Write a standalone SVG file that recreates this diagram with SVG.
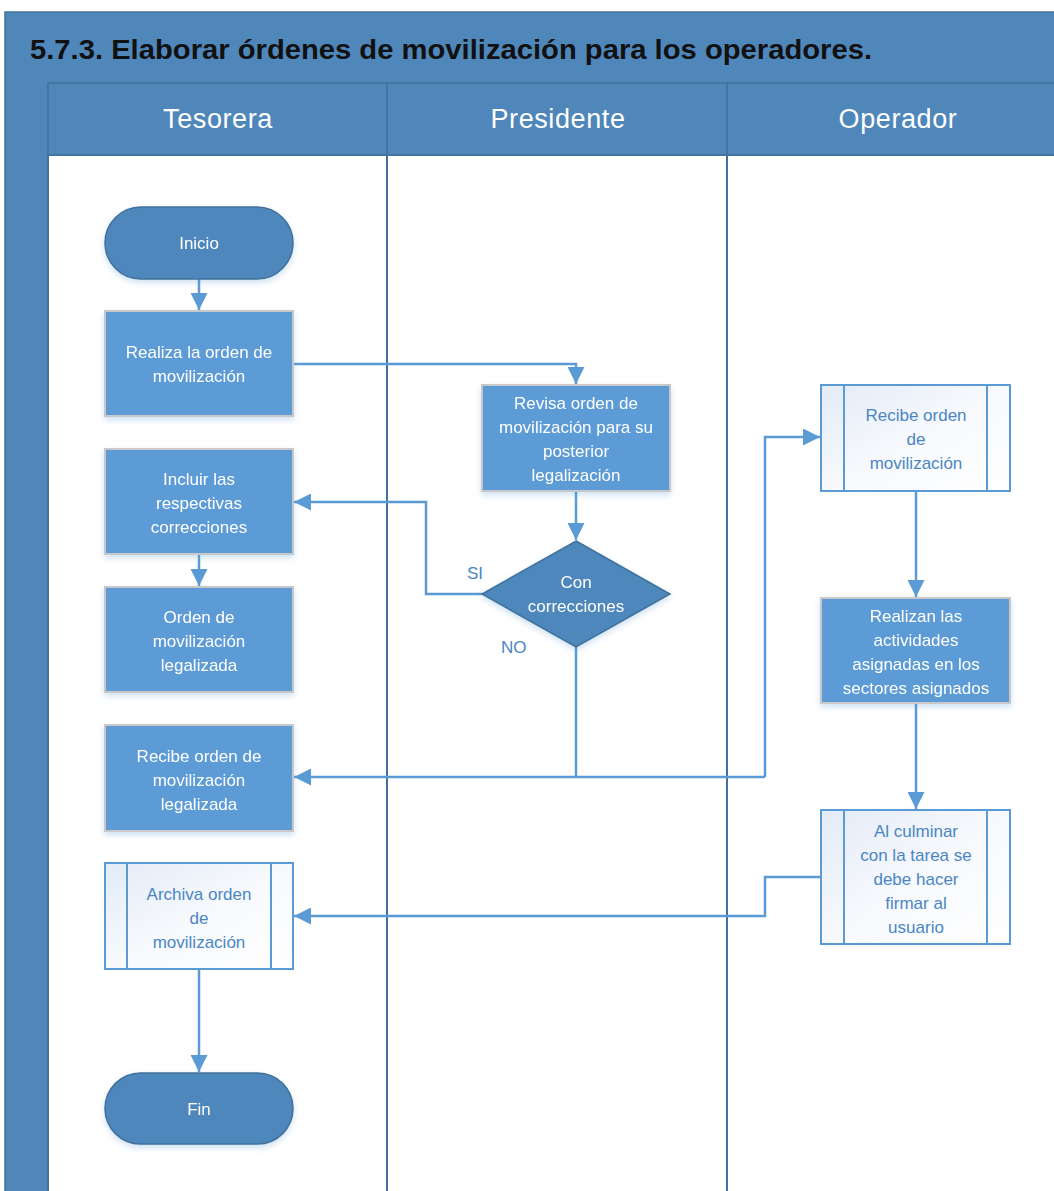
<svg xmlns="http://www.w3.org/2000/svg" width="1054" height="1191" viewBox="0 0 1054 1191">
  <defs>
    <style>
      .band { fill: #4f87bb; stroke: #41719c; stroke-width: 1.5; }
      .lane { fill: #ffffff; stroke: #41719c; stroke-width: 2; }
      .term { fill: #4e87bb; stroke: #41719c; stroke-width: 1.5; }
      .proc { fill: #5b9bd5; stroke: #c8c8c8; stroke-width: 2; }
      .sub { fill: url(#subFill); stroke: #5b9bd5; stroke-width: 2; }
      .dec { fill: #4e87bb; stroke: #41719c; stroke-width: 1.5; }
      .wt { font-family: "Liberation Sans", Arial, sans-serif; font-size: 17px; fill: #ffffff; text-anchor: middle; }
      .bt { font-family: "Liberation Sans", Arial, sans-serif; font-size: 17px; fill: #4a86c5; text-anchor: middle; }
      .hd { font-family: "Liberation Sans", Arial, sans-serif; font-size: 27px; fill: #ffffff; text-anchor: middle; letter-spacing: 0.6px; }
      .lbl { font-family: "Liberation Sans", Arial, sans-serif; font-size: 17px; fill: #4a86c5; }
      .conn { fill: none; stroke: #5b9bd5; stroke-width: 2.5; }
    </style>
    <linearGradient id="subFill" x1="0" y1="0" x2="1" y2="1">
      <stop offset="0" stop-color="#e3ebf7"/>
      <stop offset="0.5" stop-color="#f7f9fd"/>
      <stop offset="1" stop-color="#ffffff"/>
    </linearGradient>
    <filter id="shadow" x="-10%" y="-10%" width="125%" height="130%">
      <feDropShadow dx="0" dy="3" stdDeviation="3" flood-color="#5b9bd5" flood-opacity="0.3"/>
    </filter>
    <marker id="arrow" viewBox="0 0 10 10" refX="10" refY="5" markerWidth="6.8" markerHeight="6.8" markerUnits="strokeWidth" orient="auto">
      <path d="M0,0 L10,5 L0,10 Z" fill="#5b9bd5"/>
    </marker>
  </defs>

  <rect width="1054" height="1191" fill="#ffffff"/>

  <!-- pool frame, title band and left strip -->
  <g id="pool">
    <rect class="band" x="5" y="12" width="1060" height="1190"/>
    <text x="30" y="59" font-family="Liberation Sans, Arial, sans-serif" font-size="27" font-weight="bold" fill="#111111" textLength="842" lengthAdjust="spacingAndGlyphs">5.7.3. Elaborar órdenes de movilización para los operadores.</text>
  </g>

  <!-- swimlanes -->
  <g id="lanes">
    <rect class="lane" x="48" y="155" width="339" height="1050"/>
    <rect class="lane" x="387" y="155" width="340" height="1050"/>
    <rect class="lane" x="727" y="155" width="340" height="1050"/>
    <rect class="band" x="48" y="83" width="339" height="72"/>
    <rect class="band" x="387" y="83" width="340" height="72"/>
    <rect class="band" x="727" y="83" width="340" height="72"/>
    <text class="hd" x="218" y="128">Tesorera</text>
    <text class="hd" x="558" y="128">Presidente</text>
    <text class="hd" x="898" y="128">Operador</text>
  </g>

  <!-- connectors -->
  <g id="connectors">
    <path class="conn" d="M199,279 V310" marker-end="url(#arrow)"/>
    <path class="conn" d="M293,364 H576 V384" marker-end="url(#arrow)"/>
    <path class="conn" d="M576,491 V540" marker-end="url(#arrow)"/>
    <path class="conn" d="M482,594 H426 V502 H294" marker-end="url(#arrow)"/>
    <path class="conn" d="M199,554 V586" marker-end="url(#arrow)"/>
    <path class="conn" d="M576,647 V777"/>
    <path class="conn" d="M765,777 H294" marker-end="url(#arrow)"/>
    <path class="conn" d="M765,777 V437 H820" marker-end="url(#arrow)"/>
    <path class="conn" d="M916,491 V597" marker-end="url(#arrow)"/>
    <path class="conn" d="M916,703 V809" marker-end="url(#arrow)"/>
    <path class="conn" d="M821,877 H765 V916 H294" marker-end="url(#arrow)"/>
    <path class="conn" d="M199,969 V1072" marker-end="url(#arrow)"/>
    <text class="lbl" x="467" y="579">SI</text>
    <text class="lbl" x="501" y="653">NO</text>
  </g>

  <!-- Tesorera lane -->
  <g id="inicio" filter="url(#shadow)">
    <rect class="term" x="105" y="207" width="188" height="72" rx="36" ry="36"/>
    <text class="wt" x="199" y="249">Inicio</text>
  </g>
  <g id="realiza" filter="url(#shadow)">
    <rect class="proc" x="105" y="311" width="188" height="105"/>
    <text class="wt" x="199" y="358">Realiza la orden de</text>
    <text class="wt" x="199" y="382">movilización</text>
  </g>
  <g id="incluir" filter="url(#shadow)">
    <rect class="proc" x="105" y="449" width="188" height="105"/>
    <text class="wt" x="199" y="485">Incluir las</text>
    <text class="wt" x="199" y="509">respectivas</text>
    <text class="wt" x="199" y="533">correcciones</text>
  </g>
  <g id="legalizada" filter="url(#shadow)">
    <rect class="proc" x="105" y="587" width="188" height="105"/>
    <text class="wt" x="199" y="623">Orden de</text>
    <text class="wt" x="199" y="647">movilización</text>
    <text class="wt" x="199" y="671">legalizada</text>
  </g>
  <g id="recibe-legalizada" filter="url(#shadow)">
    <rect class="proc" x="105" y="725" width="188" height="106"/>
    <text class="wt" x="199" y="762">Recibe orden de</text>
    <text class="wt" x="199" y="786">movilización</text>
    <text class="wt" x="199" y="810">legalizada</text>
  </g>
  <g id="archiva">
    <rect class="sub" x="105" y="863" width="188" height="106"/>
    <path d="M127,863 V969 M271,863 V969" stroke="#5b9bd5" stroke-width="2"/>
    <text class="bt" x="199" y="900">Archiva orden</text>
    <text class="bt" x="199" y="924">de</text>
    <text class="bt" x="199" y="948">movilización</text>
  </g>
  <g id="fin" filter="url(#shadow)">
    <rect class="term" x="105" y="1073" width="188" height="71" rx="35.5" ry="35.5"/>
    <text class="wt" x="199" y="1115">Fin</text>
  </g>

  <!-- Presidente lane -->
  <g id="revisa" filter="url(#shadow)">
    <rect class="proc" x="482" y="385" width="188" height="106"/>
    <text class="wt" x="576" y="409">Revisa orden de</text>
    <text class="wt" x="576" y="433">movilización para su</text>
    <text class="wt" x="576" y="457">posterior</text>
    <text class="wt" x="576" y="481">legalización</text>
  </g>
  <g id="correcciones" filter="url(#shadow)">
    <polygon class="dec" points="576,541 670,594 576,647 482,594"/>
    <text class="wt" x="576" y="588">Con</text>
    <text class="wt" x="576" y="612">correcciones</text>
  </g>

  <!-- Operador lane -->
  <g id="recibe-orden">
    <rect class="sub" x="821" y="385" width="189" height="106"/>
    <path d="M844,385 V491 M987,385 V491" stroke="#5b9bd5" stroke-width="2"/>
    <text class="bt" x="916" y="421">Recibe  orden</text>
    <text class="bt" x="916" y="445">de</text>
    <text class="bt" x="916" y="469">movilización</text>
  </g>
  <g id="realizan" filter="url(#shadow)">
    <rect class="proc" x="821" y="598" width="189" height="105"/>
    <text class="wt" x="916" y="622">Realizan las</text>
    <text class="wt" x="916" y="646">actividades</text>
    <text class="wt" x="916" y="670">asignadas en los</text>
    <text class="wt" x="916" y="694">sectores asignados</text>
  </g>
  <g id="culminar">
    <rect class="sub" x="821" y="810" width="189" height="134"/>
    <path d="M844,810 V944 M987,810 V944" stroke="#5b9bd5" stroke-width="2"/>
    <text class="bt" x="916" y="837">Al culminar</text>
    <text class="bt" x="916" y="861">con la tarea se</text>
    <text class="bt" x="916" y="885">debe hacer</text>
    <text class="bt" x="916" y="909">firmar al</text>
    <text class="bt" x="916" y="933">usuario</text>
  </g>
</svg>
